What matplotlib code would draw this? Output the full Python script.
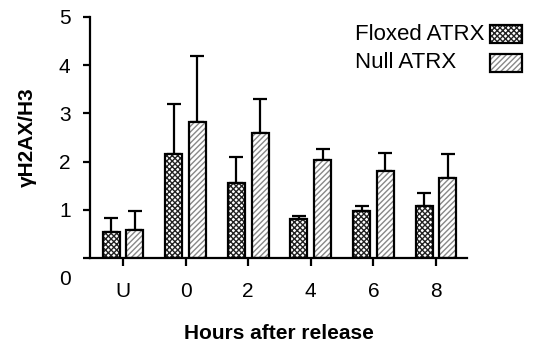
import numpy as np
import matplotlib.pyplot as plt
import matplotlib.transforms as mtransforms
from matplotlib.patches import Rectangle

plt.rcParams['font.family'] = ['Liberation Sans', 'DejaVu Sans']

# ── 데이터 ─────────────────────────────────────
groups = ['U', '0', '2', '4', '6', '8']
floxed = [0.54, 2.16, 1.56, 0.80, 0.98, 1.07]
floxed_err = [0.29, 1.04, 0.54, 0.07, 0.10, 0.27]
null = [0.58, 2.83, 2.59, 2.03, 1.80, 1.65]
null_err = [0.40, 1.37, 0.71, 0.24, 0.38, 0.50]
labels = ['Floxed ATRX', 'Null ATRX']

x = np.arange(len(groups))
w = 0.27
off = 0.19
lw = 1.6

plt.rcParams['hatch.linewidth'] = 1.0

fig = plt.figure(figsize=(5.33, 3.44), dpi=100)
ax = fig.add_axes([90/533, 86/344, 377/533, 241/344])

# floxed: 체크무늬
ax.bar(x - off, floxed, w, color='white', edgecolor='#222222', hatch='xxxxxx', linewidth=0, zorder=2)
ax.bar(x - off, floxed, w, fill=False, edgecolor='black', linewidth=lw, zorder=3)
ax.errorbar(x - off, floxed, yerr=[np.zeros(len(x)), floxed_err], fmt='none',
            ecolor='black', elinewidth=lw, capsize=5, capthick=lw, zorder=1)

# null: 사선
ax.bar(x + off, null, w, color='white', edgecolor='#888888', hatch='//////', linewidth=0, zorder=2)
ax.bar(x + off, null, w, fill=False, edgecolor='black', linewidth=lw, zorder=3)
ax.errorbar(x + off, null, yerr=[np.zeros(len(x)), null_err], fmt='none',
            ecolor='black', elinewidth=lw, capsize=5, capthick=lw, zorder=1)

ax.set_xlim(-0.527, 5.495)
ax.set_ylim(0, 5)
ax.set_xticks(x)
ax.set_xticklabels(groups, fontsize=15)
ax.set_yticks(range(6))
ax.set_yticklabels([str(i) for i in range(6)], fontsize=15)
ax.tick_params(axis='y', direction='out', length=5, width=lw, pad=9)
ax.tick_params(axis='x', direction='out', length=6, width=lw, pad=11)

# 0 라벨은 아래로 내림
lab0 = ax.get_yticklabels()[0]
lab0.set_transform(lab0.get_transform() + mtransforms.ScaledTranslation(0, -14/72, fig.dpi_scale_trans))

for s in ['top', 'right']:
    ax.spines[s].set_visible(False)
ax.spines['left'].set_linewidth(lw)
ax.spines['bottom'].set_linewidth(lw)

ax.set_ylabel('γH2AX/H3', fontsize=15, fontweight='bold')
ax.set_xlabel('Hours after release', fontsize=15, fontweight='bold')
ax.yaxis.set_label_coords(-0.167, 0.5)
ax.xaxis.set_label_coords(0.5, -0.315)
ax.xaxis.label.set_va('center')
ax.yaxis.label.set_va('center')

# 범례 (글자 왼쪽 정렬, 상자 오른쪽)
leg_hatch = [('xxxxxx', '#222222'), ('//////', '#888888')]
for i, (lab, (h, hc)) in enumerate(zip(labels, leg_hatch)):
    top = 25 + i * 29
    y0 = 1 - (top + 18) / 344
    fig.patches.append(Rectangle((490/533, y0), 32/533, 18/344, transform=fig.transFigure,
                                 facecolor='white', edgecolor=hc, hatch=h, linewidth=0))
    fig.patches.append(Rectangle((490/533, y0), 32/533, 18/344, transform=fig.transFigure,
                                 fill=False, edgecolor='black', linewidth=lw))
    fig.text(355/533, 1 - (top + 9) / 344, lab, fontsize=16, ha='left', va='center')

fig.savefig('out.png', dpi=100)
